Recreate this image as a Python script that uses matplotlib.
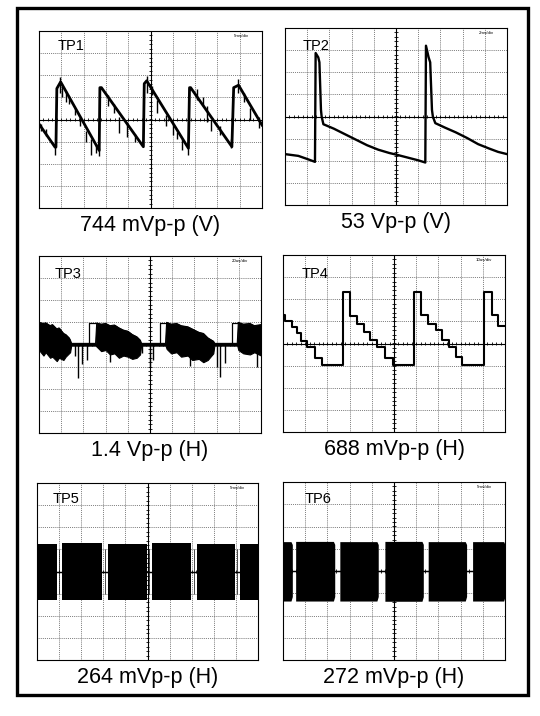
import numpy as np
import matplotlib
matplotlib.use("Agg")
import matplotlib.pyplot as plt
from matplotlib.patches import Rectangle

plt.rcParams['font.family'] = ['Liberation Sans', 'DejaVu Sans']

# labels #
names = ['TP1', 'TP2', 'TP3', 'TP4', 'TP5', 'TP6']
captions = ['744 mVp-p (V)', '53 Vp-p (V)', '1.4 Vp-p (H)',
            '688 mVp-p (H)', '264 mVp-p (H)', '272 mVp-p (H)']
timebase = ['5ms/div', '2ms/div', '20us/div', '10us/div', '5ms/div', '5ms/div']
##########

# all traces in scope divisions: x 0..10, y -4..4

# TP1 sawtooth, main vertices
tp1_x = [0.00, 0.72, 0.76, 0.80, 0.97, 2.70, 2.73, 2.80,
         4.68, 4.72, 4.83, 6.70, 6.75, 6.80, 8.65, 8.73, 8.95, 10.0]
tp1_y = [-0.20, -1.25, -1.25, 1.40, 1.70, -1.40, 1.44, 1.44,
         -1.23, 1.62, 1.75, -1.30, 1.44, 1.44, -1.23, 1.44, 1.55, -0.25]
# TP1 noise spikes on the ramps
tp1_sx = [0.10, 0.30, 0.70, 0.93, 1.05, 1.20, 1.35, 1.60, 1.85, 2.10, 2.35, 2.55,
          2.70, 3.10, 3.35, 3.60, 3.95, 4.30, 4.85, 5.05, 5.30, 5.70, 6.00, 6.20,
          6.40, 6.68, 7.10, 7.35, 7.55, 7.70, 8.10, 8.60, 8.93, 9.20, 9.45, 9.85]
tp1_slo = [-0.50, -0.75, -1.60, 1.20, 1.00, 0.80, 0.70, 0.20, -0.30, -1.00, -1.60, -1.50,
           -1.65, 0.60, 0.30, -0.60, -0.80, -1.00, 1.20, 1.10, 0.30, -0.30, -0.70, -0.90,
           -1.40, -1.60, 0.90, 0.60, -0.10, -0.50, -0.70, -1.30, 1.20, 0.80, 0.00, -0.40]
tp1_shi = [-0.20, -0.45, -1.10, 1.90, 1.60, 1.30, 1.05, 0.50, 0.05, -0.50, -0.90, -1.10,
           -1.30, 1.10, 0.70, 0.10, -0.10, -0.65, 1.95, 1.50, 0.90, 0.20, -0.20, -0.55,
           -0.90, -1.10, 1.40, 1.00, 0.60, 0.00, -0.30, -0.90, 1.85, 1.20, 0.50, 0.10]

# TP2 flyback pulses
tp2_x = [0.00, 0.60, 1.00, 1.35, 1.38, 1.50, 1.55, 1.62, 1.65, 1.73, 2.20, 2.70,
         3.20, 3.70, 4.20, 4.70, 5.00, 5.50, 6.00, 6.32, 6.35, 6.47, 6.54, 6.62,
         6.66, 6.77, 7.20, 7.70, 8.20, 8.70, 9.20, 9.60, 10.0]
tp2_y = [-1.70, -1.78, -1.92, -2.05, 2.87, 2.67, 2.45, 0.30, 0.00, -0.35, -0.55, -0.80,
         -1.05, -1.30, -1.50, -1.65, -1.72, -1.85, -1.98, -2.08, 3.20, 2.67, 2.45, 0.30,
         0.00, -0.30, -0.50, -0.72, -0.97, -1.25, -1.45, -1.60, -1.70]

# TP3 ringing bursts: envelope
tp3_x = [0.00, 0.20, 0.30, 0.50, 0.60, 0.80, 0.90, 1.10, 1.20, 1.35, 1.40, 1.45,
         2.55, 2.60, 2.80, 3.00, 3.20, 3.40, 3.60, 3.80, 4.00, 4.20, 4.40, 4.55,
         4.60, 5.70, 5.75, 5.95, 6.20, 6.40, 6.70, 6.90, 7.20, 7.40, 7.60, 7.85,
         7.90, 8.93, 8.98, 9.20, 9.50, 9.70, 10.0]
tp3_hi = [1.00, 0.95, 0.98, 0.85, 0.90, 0.70, 0.75, 0.50, 0.45, 0.30, 0.20, 0.05,
          0.05, 0.97, 0.92, 0.95, 0.85, 0.88, 0.75, 0.65, 0.60, 0.45, 0.35, 0.20,
          0.05, 0.05, 1.00, 0.92, 0.95, 0.85, 0.80, 0.70, 0.55, 0.50, 0.30, 0.15,
          0.05, 0.05, 1.00, 0.92, 0.95, 0.85, 0.90]
tp3_lo = [-0.25, -0.50, -0.35, -0.60, -0.55, -0.75, -0.60, -0.70, -0.55, -0.40, -0.35, -0.05,
          -0.05, -0.10, -0.30, -0.25, -0.45, -0.40, -0.60, -0.50, -0.55, -0.65, -0.60, -0.45,
          -0.05, -0.05, -0.20, -0.40, -0.35, -0.55, -0.50, -0.70, -0.65, -0.80, -0.70, -0.40,
          -0.05, -0.05, -0.25, -0.40, -0.45, -0.35, -0.50]
tp3_step_x0 = [2.27, 5.45, 8.68]
tp3_step_x1 = [2.55, 5.75, 8.98]
tp3_step_h = [0.95, 0.97, 0.95]
tp3_dip_x = [1.62, 1.77, 1.92, 2.15, 3.20, 4.62, 5.00, 5.15, 6.80, 8.00, 8.15, 8.38, 9.80]
tp3_dip_lo = [-0.50, -1.50, -0.90, -0.70, -0.80, -0.40, -1.00, -0.70, -0.95, -1.00, -1.45, -0.85, -1.00]

# TP4 staircase (steps-post)
tp4_x = [0.00, 0.10, 0.40, 0.63, 0.81, 1.08, 1.45, 1.75, 2.70, 3.00, 3.33, 3.66,
         3.93, 4.23, 4.60, 4.95, 5.90, 6.20, 6.55, 6.88, 7.18, 7.48, 7.78, 8.08,
         9.07, 9.40, 9.70, 10.0]
tp4_y = [1.31, 1.00, 0.75, 0.48, 0.10, -0.15, -0.65, -0.95, 2.32, 1.26, 0.86, 0.51,
         0.15, -0.15, -0.65, -0.95, 2.32, 1.31, 0.86, 0.60, 0.18, -0.15, -0.60, -0.95,
         2.32, 1.31, 0.81, 0.81]

# TP5 / TP6 bursts: start, end, top, bottom
tp5_start = [0.00, 1.13, 3.23, 5.19, 7.22, 9.17]
tp5_end = [0.90, 2.93, 4.96, 6.99, 8.95, 10.0]
tp5_top = [1.26, 1.28, 1.26, 1.27, 1.26, 1.26]
tp5_bot = [-1.29, -1.29, -1.28, -1.29, -1.29, -1.29]

tp6_start = [0.00, 0.57, 2.56, 4.59, 6.54, 8.54]
tp6_end = [0.42, 2.33, 4.29, 6.32, 8.27, 10.0]
tp6_top = [1.32, 1.33, 1.32, 1.33, 1.32, 1.32]
tp6_bot = [-1.35, -1.35, -1.35, -1.36, -1.35, -1.35]

# layout in pixels: left, top, right, bottom
W, H = 540, 716
boxes = [(39, 31, 262, 208), (285, 28, 507, 205), (39, 256, 261, 433),
         (283, 255, 505, 432), (37, 483, 258, 660), (283, 482, 505, 660)]
tp_pos = [(0.85, 3.12), (0.80, 3.00), (0.72, 3.00), (0.86, 2.98), (0.72, 3.08), (0.99, 3.05)]

fig = plt.figure(figsize=(W / 100, H / 100), dpi=100)
fig.patches.append(Rectangle((17 / W, 1 - 695 / H), 511 / W, 687 / H,
                             transform=fig.transFigure, fill=False,
                             edgecolor='black', lw=2.4))


def scope(ax):
    ax.set_xlim(0, 10)
    ax.set_ylim(-4, 4)
    ax.set_xticks([])
    ax.set_yticks([])
    for v in range(1, 10):
        if v != 5:
            ax.axvline(v, color='#555555', lw=0.6, ls=(0, (1, 1.3)), zorder=1)
    for h in range(-3, 4):
        if h != 0:
            ax.axhline(h, color='#555555', lw=0.6, ls=(0, (1, 1.3)), zorder=1)
    ax.axvline(5, color='black', lw=0.8, zorder=1)
    ax.axhline(0, color='black', lw=0.8, zorder=1)
    ax.vlines(np.arange(0.2, 10, 0.2), -0.07, 0.07, color='black', lw=0.6, zorder=1)
    ax.hlines(np.arange(-3.8, 4, 0.2), 4.93, 5.07, color='black', lw=0.6, zorder=1)
    for s in ax.spines.values():
        s.set_linewidth(0.8)


axes = []
for i, (l, t, r, b) in enumerate(boxes):
    ax = fig.add_axes([l / W, 1 - b / H, (r - l) / W, (b - t) / H])
    scope(ax)
    ax.text(tp_pos[i][0], tp_pos[i][1], names[i], fontsize=10.5, ha='left', va='baseline')
    ax.text(9.4, 3.78, timebase[i], fontsize=3.2, ha='right', va='center')
    ax.text(0.5, -0.1, captions[i], transform=ax.transAxes, ha='center', va='center',
            fontsize=15.5)
    axes.append(ax)

# TP1
ax = axes[0]
ax.plot(tp1_x, tp1_y, color='black', lw=2.0, zorder=3)
ax.vlines(tp1_sx, tp1_slo, tp1_shi, color='black', lw=1.0, zorder=3)

# TP2
ax = axes[1]
ax.plot(tp2_x, tp2_y, color='black', lw=1.7, zorder=3)

# TP3
ax = axes[2]
ax.fill_between(tp3_x, tp3_lo, tp3_hi, color='black', lw=0.8, zorder=3)
ax.plot(tp3_x, tp3_hi, color='black', lw=0.8, zorder=3)
for x0, x1, h in zip(tp3_step_x0, tp3_step_x1, tp3_step_h):
    ax.plot([x0, x0, x1], [0, h, h], color='black', lw=0.9, zorder=3)
ax.vlines(tp3_dip_x, tp3_dip_lo, 0, color='black', lw=1.0, zorder=3)

# TP4
ax = axes[3]
ax.plot(tp4_x, tp4_y, drawstyle='steps-post', color='black', lw=1.5, zorder=3)

# TP5
ax = axes[4]
ax.plot([0, 10], [0, 0], color='black', lw=1.0, zorder=3)
for s, e, hi, lo in zip(tp5_start, tp5_end, tp5_top, tp5_bot):
    ax.fill_between([s, e], [lo, lo], [hi, hi], color='black', lw=0, zorder=3)
ax.vlines([(e + s) / 2 for e, s in zip(tp5_end[:-1], tp5_start[1:])], -1.0, 1.0,
          color='black', lw=0.5, zorder=3)

# TP6
ax = axes[5]
ax.plot([0, 10], [0, 0], color='black', lw=1.0, zorder=3)
for s, e, hi, lo in zip(tp6_start, tp6_end, tp6_top, tp6_bot):
    ax.fill_between([s, e - 0.06, e], [lo, lo, lo * 0.85],
                    [hi, hi, hi * 0.9], color='black', lw=0, zorder=3)

fig.savefig('out.png', dpi=100)
